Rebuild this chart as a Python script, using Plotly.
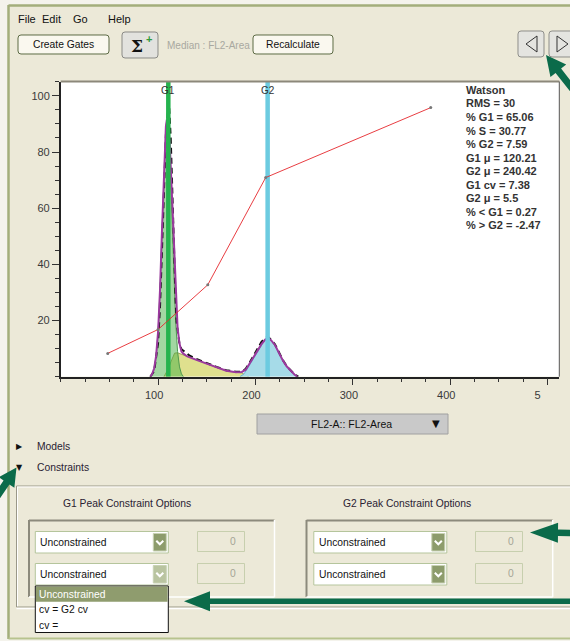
import math
import plotly.graph_objects as go

# ---------------- data ----------------
g1_x = [92, 94, 96, 98, 100, 102, 104, 106, 108, 109, 110, 112, 114, 116, 118, 120, 122, 124, 126]
g1_y = [0, 1, 3, 7.5, 16, 31, 52, 74, 88, 90, 89, 79, 60, 38, 20, 9, 3.5, 1, 0]

s_x = [106, 110, 114, 117, 120, 124, 130, 140, 150, 160, 170, 180, 186, 190, 193]
s_y = [0, 2.5, 6, 8.4, 8.5, 8.0, 7.2, 5.9, 4.6, 3.3, 2.1, 1.6, 1.3, 0.6, 0]

g2_x = [184, 188, 192, 196, 200, 204, 208, 212, 213, 216, 220, 224, 228, 232, 236, 240, 243]
g2_y = [0, 0.9, 3, 5.3, 7.5, 9.9, 12.2, 13.5, 13.6, 13.0, 11.3, 8.5, 5.9, 3.7, 2.1, 0.8, 0]

fit_x = [92, 94, 96, 98, 100, 102, 104, 106, 108, 109, 110, 112, 114, 116, 118, 120, 122, 124, 126,
         130, 140, 150, 160, 170, 180, 186, 190, 194, 198, 202, 206, 210, 213, 216, 220, 224, 228,
         232, 236, 240, 243]
fit_y = [0, 1, 3, 7.5, 16, 31, 52, 74, 89, 91.5, 91, 83, 66, 45.5, 28, 17.5, 11.8, 9, 8.2,
         7.2, 5.9, 4.6, 3.3, 2.1, 1.6, 1.7, 2.5, 4.6, 6.8, 9.2, 11.5, 13.2, 13.8, 13.0, 11.3, 8.5, 5.9,
         3.7, 2.1, 0.8, 0]

data_x = [92, 96, 100, 102, 104, 106, 108, 110, 111.5, 113, 114, 116, 118, 119, 120, 122, 124, 126,
          128, 132, 140, 150, 160, 170, 180, 186, 190, 194, 198, 202, 206, 210, 213, 216, 220, 224,
          228, 232, 236, 240, 244]
data_y = [0, 2, 12, 25, 45, 68, 86, 94, 95.6, 85, 72, 45, 27, 19.5, 16, 11.5, 9.8, 9.2,
          8.6, 7.6, 6.2, 4.8, 3.5, 2.3, 1.8, 1.8, 2.8, 5, 7.4, 10, 12.3, 13.8, 14.2, 13.2, 11.5, 8.8,
          6, 3.8, 2.2, 0.9, 0]

red_x = [48.3, 100, 151, 210.5, 380]
red_y = [8.3, 16.8, 32.7, 70.9, 95.8]

gate_names = ["G1", "G2"]
gate_pos = [110.5, 212.5]

x_tickvals = [100, 200, 300, 400, 500]
x_ticktext = ["100", "200", "300", "400", "5<span style='color:rgba(0,0,0,0)'>00</span>"]
y_tickvals = [20, 40, 60, 80, 100]
y_ticktext = ["20", "40", "60", "80", "100"]

stats_lines = ["Watson", "RMS = 30", "% G1 = 65.06", "% S = 30.77", "% G2 = 7.59",
               "G1 \u03bc = 120.21", "G2 \u03bc = 240.42", "G1 cv = 7.38", "G2 \u03bc = 5.5",
               "% < G1 = 0.27", "% > G2 = -2.47"]

menu_items = ["File", "Edit", "Go", "Help"]
list_items = ["Unconstrained", "cv = G2 cv", "cv ="]

# ---------------- helpers (pixel -> paper) ----------------
W, H = 570, 641
BG = "#ece9d8"
UIFONT = "Liberation Sans"


def X(px):
    return px / W


def Y(py):
    return 1 - py / H


shapes = []
annots = []


def rect(x0, y0, x1, y1, fill=None, line=None, lw=1, layer="above"):
    shapes.append(dict(type="rect", xref="paper", yref="paper", x0=X(x0), x1=X(x1), y0=Y(y1), y1=Y(y0),
                       fillcolor=fill if fill else "rgba(0,0,0,0)",
                       line=dict(color=line if line else "rgba(0,0,0,0)", width=lw if line else 0),
                       layer=layer))


def seg(x0, y0, x1, y1, color, lw=1):
    shapes.append(dict(type="line", xref="paper", yref="paper", x0=X(x0), x1=X(x1), y0=Y(y0), y1=Y(y1),
                       line=dict(color=color, width=lw), layer="above"))


def path(pts, fill=None, line=None, lw=1, closed=True):
    d = "M " + " L ".join(f"{X(a):.5f},{Y(b):.5f}" for a, b in pts)
    if closed:
        d += " Z"
    shapes.append(dict(type="path", xref="paper", yref="paper", path=d,
                       fillcolor=fill if fill else "rgba(0,0,0,0)",
                       line=dict(color=line if line else "rgba(0,0,0,0)", width=lw if line else 0),
                       layer="above"))


def rrect(x0, y0, x1, y1, r, fill, line, lw=1):
    def P(a, b):
        return f"{X(a):.5f},{Y(b):.5f}"
    d = (f"M {P(x0 + r, y0)} L {P(x1 - r, y0)} Q {P(x1, y0)} {P(x1, y0 + r)} "
         f"L {P(x1, y1 - r)} Q {P(x1, y1)} {P(x1 - r, y1)} L {P(x0 + r, y1)} "
         f"Q {P(x0, y1)} {P(x0, y1 - r)} L {P(x0, y0 + r)} Q {P(x0, y0)} {P(x0 + r, y0)} Z")
    shapes.append(dict(type="path", xref="paper", yref="paper", path=d, fillcolor=fill,
                       line=dict(color=line, width=lw), layer="above"))


def text(px, py, s, size=10.3, color="#222", anchor="left", family=UIFONT, bold=False):
    annots.append(dict(xref="paper", yref="paper", x=X(px), y=Y(py), text=("<b>" + s + "</b>") if bold else s,
                       showarrow=False, xanchor=anchor, yanchor="middle",
                       font=dict(size=size, color=color, family=family)))


def arrow(tail, tip, shaft, head_len, head_w, color="#0b6b4a"):
    dx, dy = tip[0] - tail[0], tip[1] - tail[1]
    L = math.hypot(dx, dy)
    ux, uy = dx / L, dy / L
    nx, ny = -uy, ux
    bx, by = tip[0] - ux * head_len, tip[1] - uy * head_len
    s, h = shaft / 2, head_w / 2
    pts = [(tail[0] + nx * s, tail[1] + ny * s), (bx + nx * s, by + ny * s), (bx + nx * h, by + ny * h),
           tip, (bx - nx * h, by - ny * h), (bx - nx * s, by - ny * s), (tail[0] - nx * s, tail[1] - ny * s)]
    path(pts, fill=color)


# ---------------- plot geometry ----------------
PX0, PX1 = 60.7, 559.3
PY0, PY1 = 81.5, 376.7
XMAX = 512.0
YMAX = 105.1

fig = go.Figure()

fig.add_trace(go.Scatter(x=s_x, y=s_y, mode="lines", fill="tozeroy", fillcolor="#dfe08e",
                         line=dict(color="#a4a35a", width=1)))
fig.add_trace(go.Scatter(x=g1_x, y=g1_y, mode="lines", fill="tozeroy", fillcolor="rgba(70,175,70,0.5)",
                         line=dict(color="#4f9a4f", width=1)))
fig.add_trace(go.Scatter(x=g2_x, y=g2_y, mode="lines", fill="tozeroy", fillcolor="#a6dbe8",
                         line=dict(color="#62b3d3", width=1)))
fig.add_trace(go.Scatter(x=data_x, y=data_y, mode="lines", line=dict(color="#111", width=2, dash="6px,4px")))
fig.add_trace(go.Scatter(x=fit_x, y=fit_y, mode="lines", line=dict(color="#9b3a9e", width=2)))
gate_colors = ["#25b34e", "#6ccbe0"]
for gx, gc in zip(gate_pos, gate_colors):
    fig.add_trace(go.Scatter(x=[gx, gx], y=[0, YMAX], mode="lines", line=dict(color=gc, width=4.5)))
fig.add_trace(go.Scatter(x=red_x, y=red_y, mode="lines+markers",
                         line=dict(color="rgba(230,40,45,0.9)", width=1),
                         marker=dict(color="#777", size=3)))

for name, gx in zip(gate_names, gate_pos):
    annots.append(dict(xref="x", yref="paper", x=gx, y=Y(91), text=name, showarrow=False,
                       xanchor="center", yanchor="middle", font=dict(size=10, color="#333", family=UIFONT)))

for i, line in enumerate(stats_lines):
    text(464, 90 + 13.5 * i, line, size=11, color="#333", bold=True)

# ---------------- window chrome ----------------
rect(0, 0, 8, H, fill="#f4f3ec", layer="below")
rect(0, 0, W, 5, fill="#f4f3ec", layer="below")
rect(0, 639, W, H, fill="#f4f3ec", layer="below")
seg(8.5, 5, 8.5, 639, "#a3ae7b", 2.5)
seg(8.5, 5.5, W, 5.5, "#a3ae7b", 2.5)
seg(8.5, 638.5, W, 638.5, "#b7c38e", 2)

# menu
for item, mx in zip(menu_items, [16.4, 40, 71, 105.5]):
    text(mx, 18.5, item, size=11, color="#111")

# buttons
rrect(18, 35, 109, 54, 3, "#faf8ef", "#5d6b45", 1)
text(63.5, 44.5, "Create Gates", anchor="center", color="#111")
rrect(122, 32, 158, 58, 3, "#e2e2de", "#8a8a86", 1)
text(137, 46, "\u03a3", size=17, color="#111", anchor="center", family="DejaVu Serif", bold=True)
text(148.5, 38.5, "+", size=11, color="#2f9a3a", anchor="center", bold=True)
text(165, 45, "Median : FL2-Area", size=10, color="#a8a8a0")
rrect(253, 35, 333, 54, 3, "#faf8ef", "#5d6b45", 1)
text(293, 44.5, "Recalculate", anchor="center", color="#111")
rrect(518, 31, 544, 57, 3, "#e4e4e0", "#8e8e8a", 1)
rrect(549, 31, 575, 57, 3, "#e4e4e0", "#8e8e8a", 1)
path([(537, 36), (526, 44), (537, 52)], line="#333", lw=1)
path([(557, 36), (568, 44), (557, 52)], line="#333", lw=1)

# plot frame borders (top/right)
seg(PX0, PY0, PX1, PY0, "#8c887a", 2)
seg(PX1, PY0, PX1, PY1, "#555", 1)

# FL2 dropdown
rect(257, 414, 448, 434, fill="#c9c9c9", line="#a0a0a0")
text(351, 424, "FL2-A:: FL2-Area", size=10.5, color="#111", anchor="center")
text(436, 423.5, "\u25bc", size=10, color="#111", anchor="center", family="DejaVu Sans")

# Models / Constraints
text(19, 446, "\u25b6", size=8, color="#111", anchor="center", family="DejaVu Sans")
text(35, 446, "Models", color="#2a2233")
text(19, 467, "\u25bc", size=8, color="#111", anchor="center", family="DejaVu Sans")
text(35, 467, "Constraints", color="#2a2233")

# outer group box (etched)
seg(16.5, 486, W, 486, "#9a9888", 1)
seg(16.5, 487, W, 487, "#ffffff", 1)
seg(16.5, 486, 16.5, 607, "#9a9888", 1)
seg(17.5, 487, 17.5, 607, "#ffffff", 1)
seg(16.5, 607, W, 607, "#9a9888", 1)
seg(16.5, 608.5, W, 608.5, "#ffffff", 1.5)

text(127, 503.5, "G1 Peak Constraint Options", anchor="center", color="#2a2233")
text(407, 503.5, "G2 Peak Constraint Options", anchor="center", color="#2a2233")

# inner boxes (sunken)
for bx0, bx1 in [(29, 274.5), (306.5, 552.7)]:
    seg(bx0, 520.5, bx1, 520.5, "#8c8a7c", 2)
    seg(bx0, 520, bx0, 597, "#8c8a7c", 2)
    seg(bx1, 520, bx1, 597, "#ffffff", 1.5)
    seg(bx0, 597, bx1, 597, "#ffffff", 1.5)


def combo(x0, y0, label, btn_fill):
    x1, y1 = x0 + 133, y0 + 21.5
    rect(x0, y0, x1, y1, fill="#ffffff", line="#b5c59c")
    rect(x1 - 15, y0 + 2, x1 - 2, y1 - 2, fill=btn_fill, line="#c8d2b4")
    cx, cy = x1 - 8.5, (y0 + y1) / 2
    path([(cx - 3.5, cy - 1.5), (cx, cy + 2), (cx + 3.5, cy - 1.5)], line="#ffffff", lw=2, closed=False)
    text(x0 + 3, (y0 + y1) / 2, label, color="#111")


def field(x0, y0):
    rect(x0, y0, x0 + 47, y0 + 20, fill=BG, line="#c7cfae")
    text(x0 + 40, y0 + 10, "0", color="#a5a596", anchor="right")


combo(35.3, 531.5, "Unconstrained", "#8d9c6c")
combo(35.3, 563.5, "Unconstrained", "#b9c4a0")
combo(313.8, 531.5, "Unconstrained", "#8d9c6c")
combo(313.8, 563.5, "Unconstrained", "#8d9c6c")
field(197.5, 531.5)
field(197.5, 563.5)
field(475.5, 531.5)
field(475.5, 563.5)

# dropdown list
rect(35.3, 586, 168.3, 632.5, fill="#ffffff", line="#111")
rect(36, 586.5, 167.6, 601.7, fill="#8f9c6e")
for i, it in enumerate(list_items):
    text(37, 594 + 15.8 * i, it, color="#ffffff" if i == 0 else "#111")

# green annotation arrows
arrow((582, 101), (546, 55), 7, 20, 20)
arrow((-8, 504), (16.5, 467.5), 7, 18, 19)
arrow((580, 533), (530, 532.5), 6.5, 28, 20)
arrow((580, 601.3), (184, 601.3), 5.5, 26, 20)

fig.update_layout(
    width=W, height=H, margin=dict(l=0, r=0, t=0, b=0),
    paper_bgcolor=BG, plot_bgcolor="#ffffff",
    showlegend=False, hovermode=False,
    shapes=shapes, annotations=annots,
    xaxis=dict(domain=[X(PX0), X(PX1)], range=[0, XMAX], showgrid=False, zeroline=False,
               showline=True, linecolor="#222", linewidth=1.5,
               tickmode="array", tickvals=x_tickvals, ticktext=x_ticktext,
               ticks="outside", ticklen=7, tickwidth=1, tickcolor="#333",
               ticklabelshift=-4,
               tickfont=dict(family=UIFONT, size=11, color="#3a3a3a"),
               minor=dict(tickmode="linear", tick0=0, dtick=25, ticks="outside", ticklen=4,
                          tickcolor="#333", showgrid=False)),
    yaxis=dict(domain=[Y(PY1), Y(PY0)], range=[0, YMAX], showgrid=False, zeroline=False,
               showline=True, linecolor="#222", linewidth=1.5,
               tickmode="array", tickvals=y_tickvals, ticktext=y_ticktext,
               ticks="outside", ticklen=7, tickwidth=1, tickcolor="#333",
               tickfont=dict(family=UIFONT, size=11, color="#3a3a3a"),
               minor=dict(tickmode="linear", tick0=0, dtick=5, ticks="outside", ticklen=4,
                          tickcolor="#333", showgrid=False)),
)

fig.write_html("out.html", config={"displayModeBar": False},
               post_script="document.body.style.margin='0';document.body.style.overflow='hidden';")
